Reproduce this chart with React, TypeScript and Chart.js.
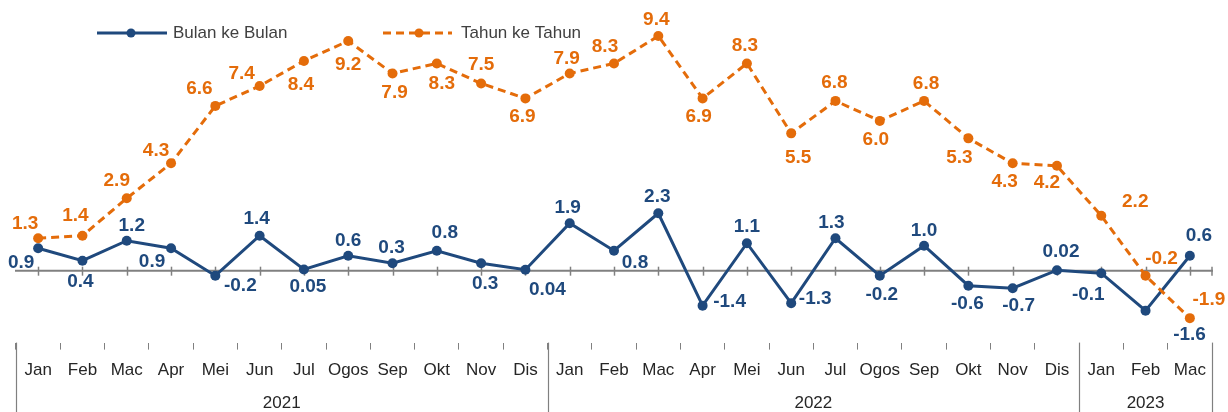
import React, { useEffect, useRef } from "react";
import { Chart, registerables } from "chart.js";

Chart.register(...registerables);

const monthLabels = [
  "Jan", "Feb", "Mac", "Apr", "Mei", "Jun", "Jul", "Ogos", "Sep", "Okt", "Nov", "Dis",
  "Jan", "Feb", "Mac", "Apr", "Mei", "Jun", "Jul", "Ogos", "Sep", "Okt", "Nov", "Dis",
  "Jan", "Feb", "Mac",
];
const yearLabels = ["2021", "2022", "2023"];
const yearMonthCounts = [12, 12, 3];

const bulanKeBulan = [
  0.9, 0.4, 1.2, 0.9, -0.2, 1.4, 0.05, 0.6, 0.3, 0.8, 0.3, 0.04,
  1.9, 0.8, 2.3, -1.4, 1.1, -1.3, 1.3, -0.2, 1.0, -0.6, -0.7, 0.02,
  -0.1, -1.6, 0.6,
];
const tahunKeTahun = [
  1.3, 1.4, 2.9, 4.3, 6.6, 7.4, 8.4, 9.2, 7.9, 8.3, 7.5, 6.9,
  7.9, 8.3, 9.4, 6.9, 8.3, 5.5, 6.8, 6.0, 6.8, 5.3, 4.3, 4.2,
  2.2, -0.2, -1.9,
];

// label placement offsets (dx, dy) relative to each point
const momLabelOffsets = [
  [-17, 15], [-2, 21], [5, -15], [-19, 14], [25, 10], [-3, -17], [4, 17], [0, -15], [-1, -15],
  [8, -18], [4, 21], [22, 20], [-2, -15], [21, 12], [-1, -16], [27, -4], [0, -16], [24, -4],
  [-4, -15], [2, 19], [0, -15], [-1, 18], [6, 18], [4, -18], [-13, 22], [44, 24], [9, -20],
];
const yoyLabelOffsets = [
  [-13, -14], [-7, -20], [-10, -18], [-15, -13], [-16, -17], [-18, -12], [-3, 24], [0, 24], [2, 19],
  [5, 20], [0, -19], [-3, 18], [-3, -15], [-9, -17], [-2, -16], [-4, 18], [-2, -18], [7, 24],
  [-1, -18], [-4, 19], [2, -17], [-9, 19], [-8, 18], [-10, 17], [34, -14], [16, -17], [19, -18],
];

const BLUE = "#1F497D";
const ORANGE = "#E46C0A";
const GRAY = "#808080";
const FONT = "'Liberation Sans', Arial, sans-serif";

const fmt = (v: number) => (Math.abs(v) < 0.1 && v !== 0 ? v.toFixed(2) : v.toFixed(1));

const decorPlugin = {
  id: "decor",
  beforeDatasetsDraw(chart: any) {
    const { ctx, chartArea, scales } = chart;
    const x = scales.x;
    const y0 = scales.y.getPixelForValue(0);
    ctx.save();
    ctx.strokeStyle = GRAY;
    ctx.lineWidth = 2;
    ctx.beginPath();
    ctx.moveTo(chartArea.left - 1, y0);
    ctx.lineTo(chartArea.right + 1, y0);
    ctx.stroke();
    ctx.lineWidth = 1.5;
    for (let i = 0; i < monthLabels.length; i++) {
      const px = Math.round(x.getPixelForValue(i)) + 0.5;
      ctx.beginPath();
      ctx.moveTo(px, y0 - 4);
      ctx.lineTo(px, y0 + 5);
      ctx.stroke();
    }
    ctx.beginPath();
    ctx.moveTo(chartArea.right, y0 - 4);
    ctx.lineTo(chartArea.right, y0 + 5);
    ctx.stroke();
    ctx.restore();
  },
  afterDatasetsDraw(chart: any) {
    const { ctx } = chart;
    ctx.save();
    ctx.font = `bold 19px ${FONT}`;
    ctx.textAlign = "center";
    ctx.textBaseline = "middle";
    const sets = [
      { idx: 0, data: bulanKeBulan, off: momLabelOffsets, color: BLUE },
      { idx: 1, data: tahunKeTahun, off: yoyLabelOffsets, color: ORANGE },
    ];
    sets.forEach((s) => {
      const meta = chart.getDatasetMeta(s.idx);
      ctx.fillStyle = s.color;
      meta.data.forEach((pt: any, i: number) => {
        const [dx, dy] = s.off[i];
        ctx.fillText(fmt(s.data[i]), pt.x + dx, pt.y + dy);
      });
    });
    ctx.restore();
  },
  afterDraw(chart: any) {
    const { ctx, chartArea, scales } = chart;
    const x = scales.x;
    ctx.save();
    ctx.strokeStyle = GRAY;
    ctx.lineWidth = 1.2;
    const top = chartArea.bottom;
    const bottom = chart.height;
    let start = 0;
    const bounds: number[] = [chartArea.left];
    yearMonthCounts.forEach((c, k) => {
      const end = start + c - 1;
      const cx = (x.getPixelForValue(start) + x.getPixelForValue(end)) / 2;
      ctx.fillStyle = "#262626";
      ctx.font = `17px ${FONT}`;
      ctx.textAlign = "center";
      ctx.textBaseline = "middle";
      ctx.fillText(yearLabels[k], cx, 403);
      if (k < yearMonthCounts.length - 1) {
        bounds.push((x.getPixelForValue(end) + x.getPixelForValue(end + 1)) / 2);
      }
      start += c;
    });
    bounds.push(chartArea.right);
    bounds.forEach((b) => {
      const px = Math.round(b) + 0.5;
      ctx.beginPath();
      ctx.moveTo(px, top);
      ctx.lineTo(px, bottom);
      ctx.stroke();
    });
    const drawItem = (x1: number, x2: number, dot: number, color: string, dash: number[], text: string, tx: number) => {
      ctx.strokeStyle = color;
      ctx.lineWidth = 3;
      ctx.setLineDash(dash);
      ctx.beginPath();
      ctx.moveTo(x1, 33);
      ctx.lineTo(x2, 33);
      ctx.stroke();
      ctx.setLineDash([]);
      ctx.fillStyle = color;
      ctx.beginPath();
      ctx.arc(dot, 33, 4.5, 0, Math.PI * 2);
      ctx.fill();
      ctx.fillStyle = "#404040";
      ctx.font = `17px ${FONT}`;
      ctx.textAlign = "left";
      ctx.textBaseline = "middle";
      ctx.fillText(text, tx, 33);
    };
    drawItem(97, 167, 131, BLUE, [], "Bulan ke Bulan", 173);
    drawItem(383, 452, 419, ORANGE, [8, 5], "Tahun ke Tahun", 461);
    ctx.restore();
  },
};

export default function App() {
  const ref = useRef<HTMLCanvasElement | null>(null);
  useEffect(() => {
    if (!ref.current) return;
    const chart = new Chart(ref.current, {
      type: "line",
      data: {
        labels: monthLabels,
        datasets: [
          {
            label: "Bulan ke Bulan",
            data: bulanKeBulan,
            borderColor: BLUE,
            backgroundColor: BLUE,
            borderWidth: 3,
            pointRadius: 5,
            pointBorderWidth: 0,
            pointBackgroundColor: BLUE,
            tension: 0,
            order: 1,
          },
          {
            label: "Tahun ke Tahun",
            data: tahunKeTahun,
            borderColor: ORANGE,
            backgroundColor: ORANGE,
            borderWidth: 3,
            borderDash: [8, 5],
            pointRadius: 5,
            pointBorderWidth: 0,
            pointBackgroundColor: ORANGE,
            tension: 0,
            order: 0,
          },
        ],
      },
      options: {
        animation: false,
        responsive: false,
        devicePixelRatio: 1,
        clip: false,
        layout: { padding: { left: 16, right: 16, top: 21, bottom: 20 } },
        plugins: {
          legend: { display: false },
          tooltip: { enabled: false },
          title: { display: false },
        },
        scales: {
          y: {
            display: false,
            min: -2.88,
            max: 10,
          },
          x: {
            offset: true,
            grid: {
              display: true,
              offset: true,
              drawOnChartArea: false,
              drawTicks: true,
              tickLength: 7,
              color: GRAY,
              lineWidth: 1,
            },
            border: { display: false },
            ticks: {
              autoSkip: false,
              maxRotation: 0,
              minRotation: 0,
              padding: 11,
              color: "#262626",
              font: { family: FONT, size: 17 },
            },
          },
        },
      },
      plugins: [decorPlugin],
    });
    return () => chart.destroy();
  }, []);
  return (
    <div style={{ position: "absolute", left: 0, top: 0, width: 1228, height: 412, background: "#fff" }}>
      <canvas ref={ref} width={1228} height={412} style={{ display: "block", width: 1228, height: 412 }} />
    </div>
  );
}
